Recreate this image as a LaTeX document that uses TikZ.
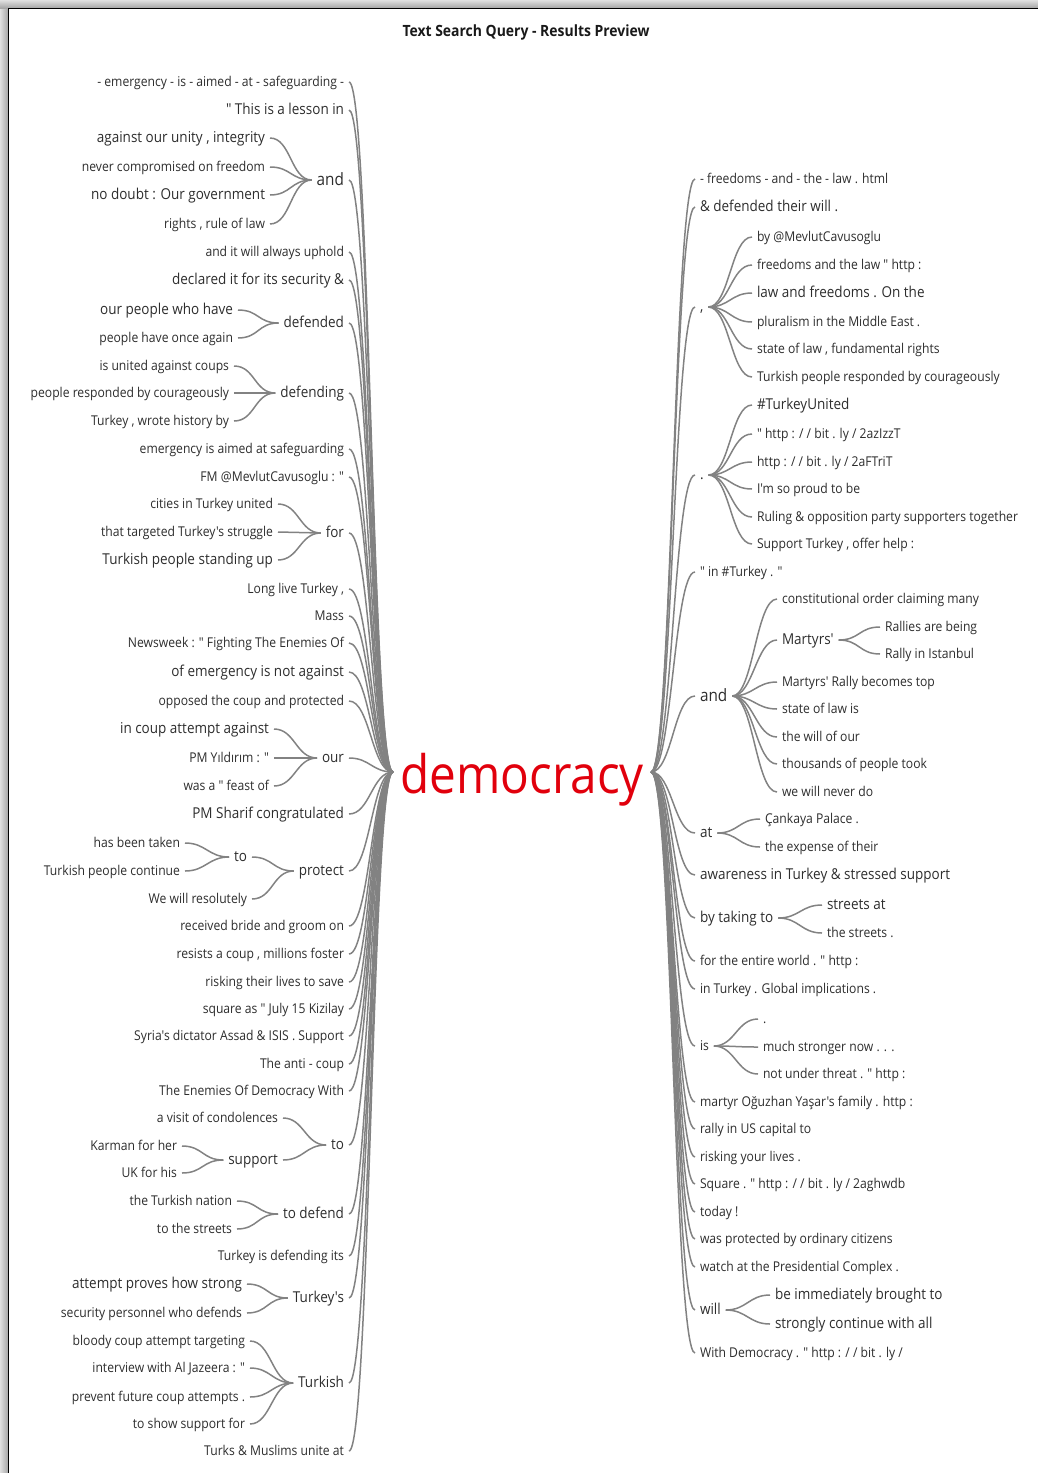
\documentclass[tikz,border=0pt]{standalone}
\usepackage{fontspec}
\newfontfamily\wtf[FakeStretch=0.9]{Open Sans}
\definecolor{lnkc}{RGB}{130,130,130}
\definecolor{txt}{RGB}{45,45,45}
\definecolor{demred}{RGB}{225,0,12}
\tikzset{
 wt/.style={inner xsep=5pt, inner ysep=0pt, outer sep=0pt, text=txt},
 sm/.style={wt, font=\wtf\fontsize{13.5}{15}\selectfont, text height=10.8pt, text depth=2.7pt},
 md/.style={wt, font=\wtf\fontsize{15}{17}\selectfont, text height=12pt, text depth=3pt},
 lg/.style={wt, font=\wtf\fontsize{17}{19}\selectfont, text height=13.6pt, text depth=3.4pt},
 L/.style={anchor=east}, R/.style={anchor=west},
 lnk/.style={draw=lnkc, line width=1.5pt},
}
\newcommand\wl[2]{\draw[lnk] (#1.east) .. controls +(21,0) and +(-21,0) .. (#2.west);}
\begin{document}
\begin{tikzpicture}[x=1pt,y=-1pt]
\useasboundingbox (0,0) rectangle (1038,1473);
% frame
\shade[left color=black!12, right color=black!35] (0,0) rectangle (8,1473);
\shade[top color=black!12, bottom color=black!35] (0,0) rectangle (1038,8);
\draw[black, line width=1.3pt] (8.5,1473) -- (8.5,8.5) -- (1038,8.5);
% title
\node[font=\wtf\bfseries\fontsize{15.5}{17}\selectfont, text=black!90] (title) at (526,32) {Text Search Query - Results Preview};
% root
\node[font=\wtf\fontsize{53}{60}\selectfont, text=demred, inner xsep=7pt, inner ysep=0pt, text height=45pt, text depth=3pt] (root) at (522,772) {democracy};
% ---------- left side ----------
\node[sm,L] (l1) at (349,82) {- emergency - is - aimed - at - safeguarding -};
\node[md,L] (l2) at (349,110) {" This is a lesson in};
\node[lg,L] (l3) at (349,180) {and};
 \node[md,L] (l3a) at (270,138) {against our unity , integrity};
 \node[sm,L] (l3b) at (270,167) {never compromised on freedom};
 \node[md,L] (l3c) at (270,195) {no doubt : Our government};
 \node[sm,L] (l3d) at (270,224) {rights , rule of law};
\node[sm,L] (l4) at (349,252) {and it will always uphold};
\node[md,L] (l5) at (349,280) {declared it for its security \&};
\node[md,L] (l6) at (349,323) {defended};
 \node[md,L] (l6a) at (238,310) {our people who have};
 \node[sm,L] (l6b) at (238,338) {people have once again};
\node[md,L] (l7) at (349,393) {defending};
 \node[sm,L] (l7a) at (234,366) {is united against coups};
 \node[sm,L] (l7b) at (234,393) {people responded by courageously};
 \node[sm,L] (l7c) at (234,421) {Turkey , wrote history by};
\node[sm,L] (l8) at (349,449) {emergency is aimed at safeguarding};
\node[sm,L] (l9) at (349,477) {FM @MevlutCavusoglu : "};
\node[md,L] (l10) at (349,533) {for};
 \node[sm,L] (l10a) at (278,504) {cities in Turkey united};
 \node[sm,L] (l10b) at (278,532) {that targeted Turkey's struggle};
 \node[md,L] (l10c) at (278,560) {Turkish people standing up};
\node[sm,L] (l11) at (349,589) {Long live Turkey ,};
\node[sm,L] (l12) at (349,616) {Mass};
\node[sm,L] (l13) at (349,643) {Newsweek : " Fighting The Enemies Of};
\node[md,L] (l14) at (349,672) {of emergency is not against};
\node[sm,L] (l15) at (349,701) {opposed the coup and protected};
\node[md,L] (l16) at (349,758) {our};
 \node[md,L] (l16a) at (274,729) {in coup attempt against};
 \node[sm,L] (l16b) at (274,758) {PM Yıldırım : "};
 \node[sm,L] (l16c) at (274,786) {was a " feast of};
\node[md,L] (l17) at (349,814) {PM Sharif congratulated};
\node[md,L] (l18) at (349,871) {protect};
 \node[md,L] (l18a) at (252,857) {to};
  \node[sm,L] (l18a1) at (185,843) {has been taken};
  \node[sm,L] (l18a2) at (185,871) {Turkish people continue};
 \node[sm,L] (l18b) at (252,899) {We will resolutely};
\node[sm,L] (l19) at (349,926) {received bride and groom on};
\node[sm,L] (l20) at (349,954) {resists a coup , millions foster};
\node[sm,L] (l21) at (349,982) {risking their lives to save};
\node[sm,L] (l22) at (349,1009) {square as " July 15 Kizilay};
\node[sm,L] (l23) at (349,1036) {Syria's dictator Assad \& ISIS . Support};
\node[sm,L] (l24) at (349,1064) {The anti - coup};
\node[sm,L] (l25) at (349,1091) {The Enemies Of Democracy With};
\node[md,L] (l26) at (349,1145) {to};
 \node[sm,L] (l26a) at (283,1118) {a visit of condolences};
 \node[md,L] (l26b) at (283,1160) {support};
  \node[sm,L] (l26b1) at (182,1146) {Karman for her};
  \node[sm,L] (l26b2) at (182,1173) {UK for his};
\node[md,L] (l27) at (349,1214) {to defend};
 \node[sm,L] (l27a) at (237,1201) {the Turkish nation};
 \node[sm,L] (l27b) at (237,1229) {to the streets};
\node[sm,L] (l28) at (349,1256) {Turkey is defending its};
\node[md,L] (l29) at (349,1298) {Turkey's};
 \node[md,L] (l29a) at (247,1284) {attempt proves how strong};
 \node[sm,L] (l29b) at (247,1313) {security personnel who defends};
\node[md,L] (l30) at (349,1383) {Turkish};
 \node[sm,L] (l30a) at (250,1341) {bloody coup attempt targeting};
 \node[sm,L] (l30b) at (250,1368) {interview with Al Jazeera : "};
 \node[sm,L] (l30c) at (250,1397) {prevent future coup attempts .};
 \node[sm,L] (l30d) at (250,1424) {to show support for};
\node[sm,L] (l31) at (349,1451) {Turks \& Muslims unite at};
% ---------- right side ----------
\node[sm,R] (r1) at (695,179) {- freedoms - and - the - law . html};
\node[md,R] (r2) at (695,207) {\& defended their will .};
\node[md,R] (r3) at (695,307) {,};
 \node[sm,R] (r3a) at (752,237) {by @MevlutCavusoglu};
 \node[sm,R] (r3b) at (752,265) {freedoms and the law " http :};
 \node[md,R] (r3c) at (752,293) {law and freedoms . On the};
 \node[sm,R] (r3d) at (752,322) {pluralism in the Middle East .};
 \node[sm,R] (r3e) at (752,349) {state of law , fundamental rights};
 \node[sm,R] (r3f) at (752,377) {Turkish people responded by courageously};
\node[md,R] (r4) at (695,475) {.};
 \node[md,R] (r4a) at (752,405) {\#TurkeyUnited};
 \node[sm,R] (r4b) at (752,434) {" http : / / bit . ly / 2azIzzT};
 \node[sm,R] (r4c) at (752,462) {http : / / bit . ly / 2aFTriT};
 \node[sm,R] (r4d) at (752,489) {I'm so proud to be};
 \node[sm,R] (r4e) at (752,517) {Ruling \& opposition party supporters together};
 \node[sm,R] (r4f) at (752,544) {Support Turkey , offer help :};
\node[sm,R] (r5) at (695,572) {" in \#Turkey . "};
\node[lg,R] (r6) at (695,696) {and};
 \node[sm,R] (r6a) at (777,599) {constitutional order claiming many};
 \node[md,R] (r6b) at (777,640) {Martyrs'};
  \node[sm,R] (r6b1) at (880,627) {Rallies are being};
  \node[sm,R] (r6b2) at (880,654) {Rally in Istanbul};
 \node[sm,R] (r6c) at (777,682) {Martyrs' Rally becomes top};
 \node[sm,R] (r6d) at (777,709) {state of law is};
 \node[sm,R] (r6e) at (777,737) {the will of our};
 \node[sm,R] (r6f) at (777,764) {thousands of people took};
 \node[sm,R] (r6g) at (777,792) {we will never do};
\node[md,R] (r7) at (695,833) {at};
 \node[sm,R] (r7a) at (760,819) {Çankaya Palace .};
 \node[sm,R] (r7b) at (760,847) {the expense of their};
\node[md,R] (r8) at (695,875) {awareness in Turkey \& stressed support};
\node[md,R] (r9) at (695,918) {by taking to};
 \node[md,R] (r9a) at (822,905) {streets at};
 \node[sm,R] (r9b) at (822,933) {the streets .};
\node[sm,R] (r10) at (695,961) {for the entire world . " http :};
\node[sm,R] (r11) at (695,989) {in Turkey . Global implications .};
\node[sm,R] (r12) at (695,1046) {is};
 \node[sm,R] (r12a) at (758,1019) {.};
 \node[sm,R] (r12b) at (758,1047) {much stronger now . . .};
 \node[sm,R] (r12c) at (758,1074) {not under threat . " http :};
\node[sm,R] (r13) at (695,1102) {martyr Oğuzhan Yaşar's family . http :};
\node[sm,R] (r14) at (695,1129) {rally in US capital to};
\node[sm,R] (r15) at (695,1157) {risking your lives .};
\node[sm,R] (r16) at (695,1184) {Square . " http : / / bit . ly / 2aghwdb};
\node[sm,R] (r17) at (695,1212) {today !};
\node[sm,R] (r18) at (695,1239) {was protected by ordinary citizens};
\node[sm,R] (r19) at (695,1267) {watch at the Presidential Complex .};
\node[md,R] (r20) at (695,1310) {will};
 \node[md,R] (r20a) at (770,1295) {be immediately brought to};
 \node[md,R] (r20b) at (770,1324) {strongly continue with all};
\node[sm,R] (r21) at (695,1353) {With Democracy . " http : / / bit . ly /};
% ---------- links ----------
\foreach \n in {l1,l2,l3,l4,l5,l6,l7,l8,l9,l10,l11,l12,l13,l14,l15,l16,l17,l18,l19,l20,l21,l22,l23,l24,l25,l26,l27,l28,l29,l30,l31}{\wl{\n}{root}}
\foreach \n in {r1,r2,r3,r4,r5,r6,r7,r8,r9,r10,r11,r12,r13,r14,r15,r16,r17,r18,r19,r20,r21}{\wl{root}{\n}}
\foreach \n in {l3a,l3b,l3c,l3d}{\wl{\n}{l3}}
\foreach \n in {l6a,l6b}{\wl{\n}{l6}}
\foreach \n in {l7a,l7b,l7c}{\wl{\n}{l7}}
\foreach \n in {l10a,l10b,l10c}{\wl{\n}{l10}}
\foreach \n in {l16a,l16b,l16c}{\wl{\n}{l16}}
\foreach \n in {l18a,l18b}{\wl{\n}{l18}}
\foreach \n in {l18a1,l18a2}{\wl{\n}{l18a}}
\foreach \n in {l26a,l26b}{\wl{\n}{l26}}
\foreach \n in {l26b1,l26b2}{\wl{\n}{l26b}}
\foreach \n in {l27a,l27b}{\wl{\n}{l27}}
\foreach \n in {l29a,l29b}{\wl{\n}{l29}}
\foreach \n in {l30a,l30b,l30c,l30d}{\wl{\n}{l30}}
\foreach \n in {r3a,r3b,r3c,r3d,r3e,r3f}{\wl{r3}{\n}}
\foreach \n in {r4a,r4b,r4c,r4d,r4e,r4f}{\wl{r4}{\n}}
\foreach \n in {r6a,r6b,r6c,r6d,r6e,r6f,r6g}{\wl{r6}{\n}}
\foreach \n in {r6b1,r6b2}{\wl{r6b}{\n}}
\foreach \n in {r7a,r7b}{\wl{r7}{\n}}
\foreach \n in {r9a,r9b}{\wl{r9}{\n}}
\foreach \n in {r12a,r12b,r12c}{\wl{r12}{\n}}
\foreach \n in {r20a,r20b}{\wl{r20}{\n}}
\end{tikzpicture}
\end{document}
